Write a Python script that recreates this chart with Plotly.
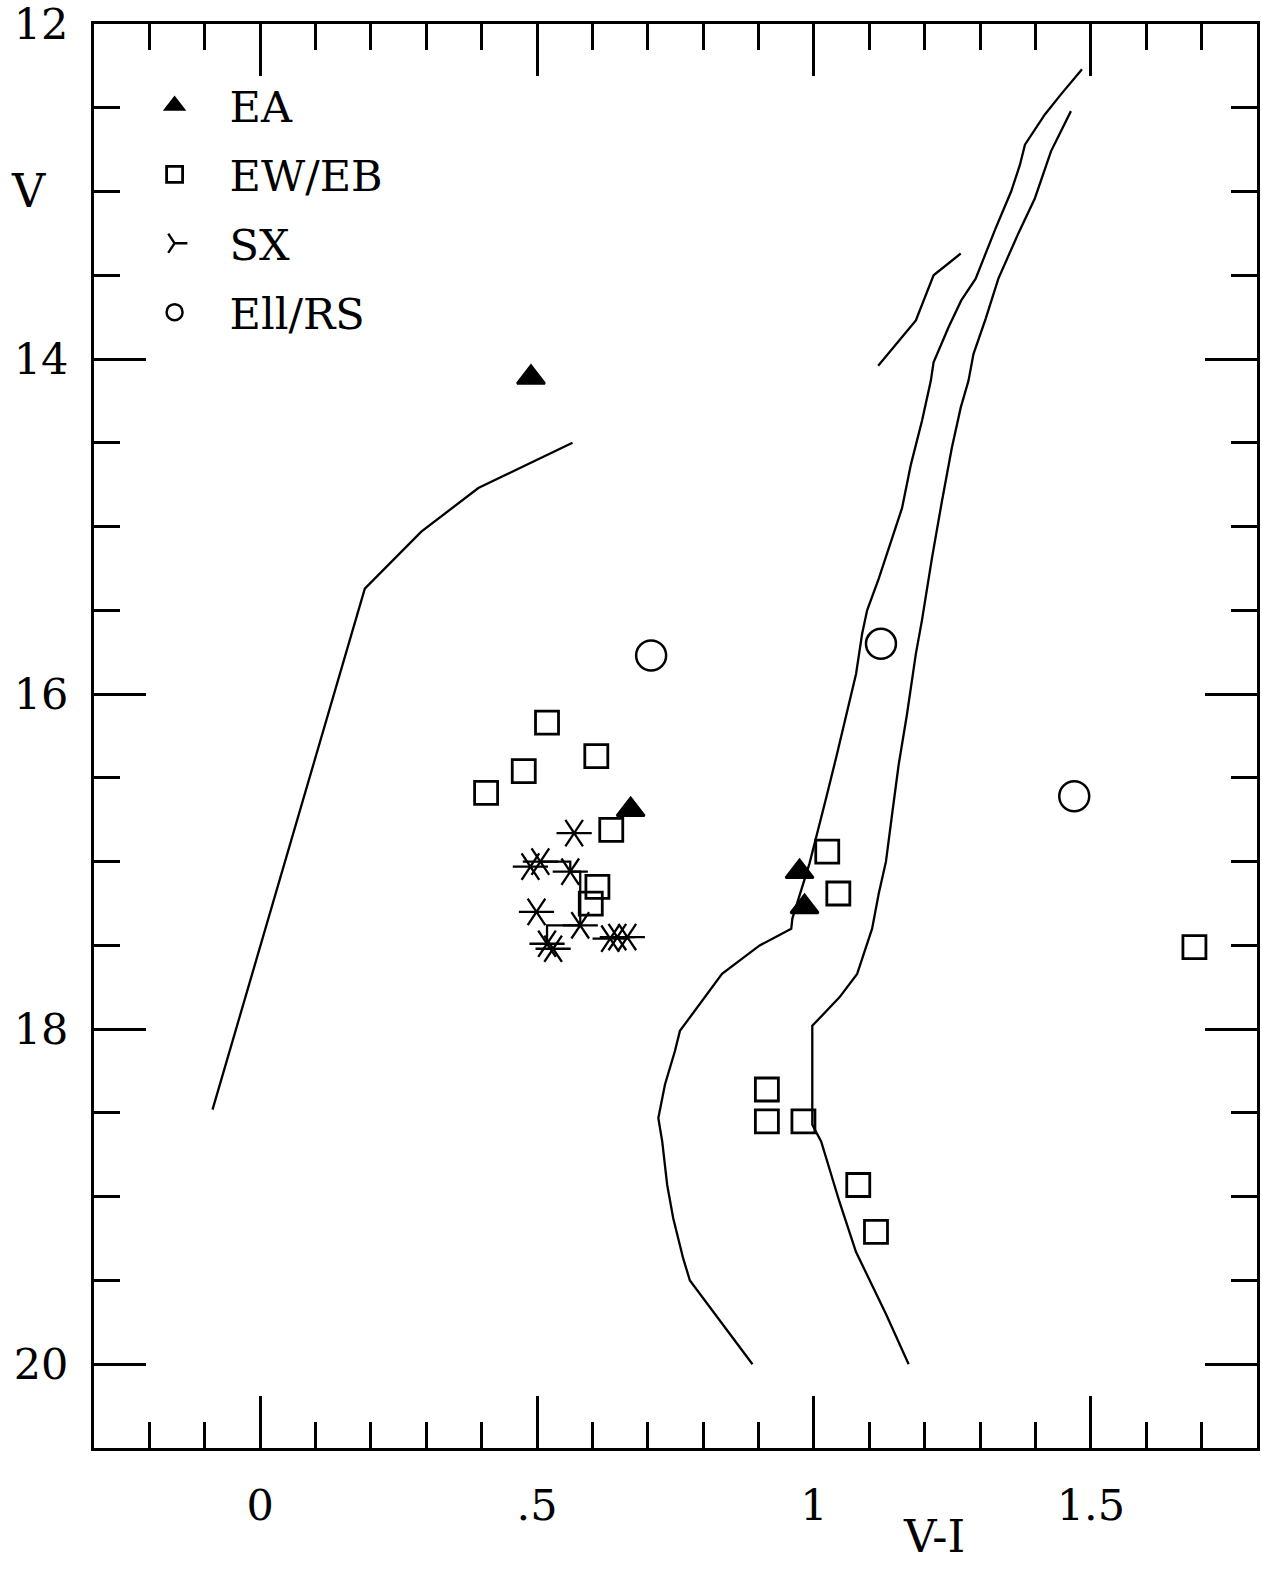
import plotly.graph_objects as go

# ---- sequence curves (V-I, V) ----
zams_vi = [-0.086, 0.189, 0.291, 0.394, 0.564]
zams_v = [18.48, 15.37, 15.03, 14.77, 14.50]

iso_blue_vi = [0.889, 0.848, 0.807, 0.776, 0.764, 0.746, 0.735, 0.726, 0.719, 0.731,
               0.749, 0.758, 0.834, 0.902, 0.959, 0.961, 0.992, 1.004, 1.022, 1.040,
               1.058, 1.076, 1.087, 1.096, 1.117, 1.141, 1.159, 1.175, 1.195, 1.211,
               1.216, 1.243, 1.266, 1.292, 1.310, 1.328, 1.356, 1.372, 1.381, 1.417,
               1.446, 1.484]
iso_blue_v = [20.00, 19.82, 19.64, 19.50, 19.37, 19.13, 18.93, 18.67, 18.53, 18.33,
              18.13, 18.01, 17.67, 17.50, 17.40, 17.34, 17.01, 16.86, 16.62, 16.38,
              16.12, 15.88, 15.64, 15.50, 15.31, 15.07, 14.89, 14.63, 14.37, 14.13,
              14.02, 13.81, 13.65, 13.52, 13.37, 13.22, 13.00, 12.84, 12.72, 12.54,
              12.42, 12.27]

iso_red_vi = [1.171, 1.130, 1.076, 1.046, 1.013, 0.997, 0.997, 1.046, 1.078, 1.105,
              1.117, 1.130, 1.141, 1.153, 1.168, 1.184, 1.195, 1.213, 1.231, 1.249,
              1.265, 1.279, 1.288, 1.310, 1.333, 1.369, 1.399, 1.428, 1.464]
iso_red_v = [20.00, 19.70, 19.33, 19.03, 18.67, 18.57, 17.98, 17.81, 17.67, 17.40,
             17.19, 17.00, 16.72, 16.42, 16.12, 15.76, 15.56, 15.19, 14.85, 14.53,
             14.29, 14.13, 13.97, 13.76, 13.52, 13.25, 13.04, 12.76, 12.52]

branch_vi = [1.116, 1.184, 1.216, 1.265]
branch_v = [14.04, 13.77, 13.50, 13.37]

# ---- variable stars ----
ea_vi = [0.489, 0.669, 0.974, 0.983]
ea_v = [14.11, 16.69, 17.06, 17.27]

ew_vi = [0.518, 0.607, 0.476, 0.408, 0.634, 0.609, 0.597, 1.024, 1.044, 1.687,
         0.915, 0.915, 0.981, 1.080, 1.112]
ew_v = [16.17, 16.37, 16.46, 16.59, 16.81, 17.15, 17.25, 16.94, 17.19, 17.51,
        18.36, 18.55, 18.55, 18.93, 19.21]

sx_vi = [0.567, 0.488, 0.506, 0.560, 0.499, 0.578, 0.518, 0.529, 0.632, 0.645, 0.663]
sx_v = [16.83, 17.03, 17.00, 17.06, 17.30, 17.38, 17.49, 17.52, 17.46, 17.45, 17.45]
sx_path_idx = [2, 3, 5, 6]

ell_vi = [0.706, 1.121, 1.470]
ell_v = [15.77, 15.70, 16.61]

x_tickvals = [0, 0.5, 1, 1.5]
x_ticktext = ["0", ".5", "1", "1.5"]
y_tickvals = [12, 14, 16, 18, 20]
y_ticktext = ["12", "14", "16", "18", "20"]

FONT = "DejaVu Serif"
INK = "black"

fig = go.Figure()

line_style = dict(color=INK, width=2.3)
for xs, ys in [(zams_vi, zams_v), (iso_blue_vi, iso_blue_v),
               (iso_red_vi, iso_red_v), (branch_vi, branch_v)]:
    fig.add_trace(go.Scatter(x=xs, y=ys, mode="lines", line=line_style,
                             showlegend=False, hoverinfo="skip"))

# stepped connector between some of the SX stars
fig.add_trace(go.Scatter(x=[sx_vi[i] for i in sx_path_idx],
                         y=[sx_v[i] for i in sx_path_idx],
                         mode="lines", line=dict(color=INK, width=2.3, shape="hv"),
                         showlegend=False, hoverinfo="skip"))

fig.add_trace(go.Scatter(x=ea_vi, y=ea_v, mode="markers", name="EA",
                         marker=dict(symbol="triangle-up", size=24, color=INK,
                                     line=dict(width=2.5, color=INK))))
fig.add_trace(go.Scatter(x=ew_vi, y=ew_v, mode="markers", name="EW/EB",
                         marker=dict(symbol="square-open", size=23, color=INK,
                                     line=dict(width=2.8, color=INK))))
# six-armed asterisk built from two rotated three-armed glyphs
fig.add_trace(go.Scatter(x=sx_vi, y=sx_v, mode="markers", name="SX",
                         legendgroup="sx",
                         marker=dict(symbol="y-up-open", size=22, angle=90, color=INK,
                                     line=dict(width=2.3, color=INK))))
fig.add_trace(go.Scatter(x=sx_vi, y=sx_v, mode="markers", name="SX",
                         legendgroup="sx", showlegend=False,
                         marker=dict(symbol="y-down-open", size=22, angle=90, color=INK,
                                     line=dict(width=2.3, color=INK))))
fig.add_trace(go.Scatter(x=ell_vi, y=ell_v, mode="markers", name="Ell/RS",
                         marker=dict(symbol="circle-open", size=30, color=INK,
                                     line=dict(width=2.5, color=INK))))

axis_common = dict(
    showgrid=False, zeroline=False, showline=True, linecolor=INK, linewidth=3,
    mirror="ticks", ticks="inside", ticklen=52, tickwidth=2.5, tickcolor=INK,
    tickfont=dict(family=FONT, size=43, color=INK), ticklabeloverflow="allow",
    automargin=False,
)

fig.update_xaxes(
    range=[-0.3, 1.8], tickmode="array", tickvals=x_tickvals, ticktext=x_ticktext,
    ticklabelstandoff=17,
    minor=dict(tickmode="linear", tick0=0, dtick=0.1, ticks="inside", ticklen=26,
               tickwidth=2.5, tickcolor=INK),
    **axis_common,
)
fig.update_yaxes(
    range=[20.5, 12], tickmode="array", tickvals=y_tickvals, ticktext=y_ticktext,
    ticklabelstandoff=14,
    minor=dict(tickmode="linear", tick0=12, dtick=0.5, ticks="inside", ticklen=26,
               tickwidth=2.5, tickcolor=INK),
    **axis_common,
)

fig.add_annotation(text="V", xref="paper", yref="paper", x=-0.056, y=0.883,
                   xanchor="center", yanchor="middle",
                   showarrow=False, font=dict(family=FONT, size=46, color=INK))
fig.add_annotation(text="V-I", xref="paper", yref="paper", x=0.722, y=-0.062,
                   xanchor="center", yanchor="middle",
                   showarrow=False, font=dict(family=FONT, size=45, color=INK))

fig.update_layout(
    width=1262, height=1572,
    margin=dict(l=94, r=5, t=24, b=124),
    paper_bgcolor="white", plot_bgcolor="white",
    legend=dict(x=0.022, y=0.967, xanchor="left", yanchor="top",
                font=dict(family=FONT, size=43, color=INK),
                itemwidth=100, bgcolor="rgba(0,0,0,0)", borderwidth=0),
)

fig.write_html("out.html")
